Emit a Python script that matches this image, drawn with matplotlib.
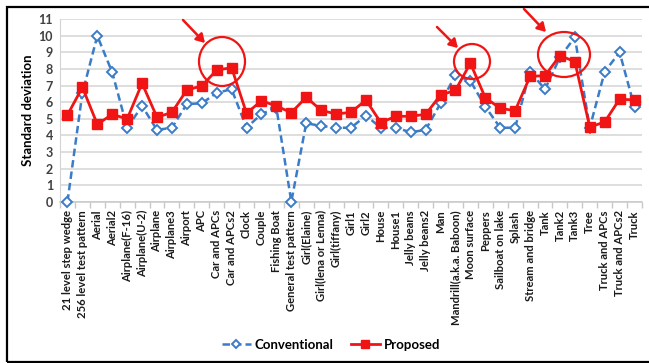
import matplotlib
matplotlib.use("Agg")
import matplotlib.pyplot as plt
from matplotlib.patches import Ellipse, FancyArrowPatch, Rectangle
from matplotlib.ticker import FixedLocator, NullFormatter

categories = [
    "21 level step wedge", "256 level test pattern", "Aerial", "Aerial2",
    "Airplane(F-16)", "Airplane(U-2)", "Airplane", "Airplane3", "Airport", "APC",
    "Car and APCs", "Car and APCs2", "Clock", "Couple", "Fishing Boat",
    "General test pattern", "Girl(Elaine)", "Girl(lena or Lenna)", "Girl(tiffany)",
    "Girl1", "Girl2", "House", "House1", "Jelly beans", "Jelly beans2", "Man",
    "Mandrill(a.k.a. Baboon)", "Moon surface", "Peppers", "Sailboat on lake",
    "Splash", "Stream and bridge", "Tank", "Tank2", "Tank3", "Tree",
    "Truck and APCs", "Truck and APCs2", "Truck",
]

conventional = [
    0.0, 6.55, 10.0, 7.8, 4.46, 5.77, 4.33, 4.46, 5.89, 5.93,
    6.57, 6.78, 4.46, 5.29, 5.67, 0.0, 4.73, 4.57, 4.46, 4.46,
    5.19, 4.46, 4.46, 4.19, 4.33, 5.93, 7.64, 7.28, 5.73, 4.46,
    4.46, 7.84, 6.78, 8.71, 9.92, 4.46, 7.84, 9.01, 5.69,
]

proposed = [
    5.23, 6.9, 4.67, 5.27, 4.99, 7.14, 5.09, 5.39, 6.74, 6.98,
    7.94, 8.08, 5.33, 6.09, 5.77, 5.37, 6.3, 5.51, 5.29, 5.39,
    6.13, 4.77, 5.15, 5.15, 5.27, 6.43, 6.72, 8.35, 6.27, 5.63,
    5.49, 7.56, 7.6, 8.81, 8.45, 4.5, 4.81, 6.19, 6.13,
]

y_ticks = list(range(0, 12))

W, H = 649, 363
fig = plt.figure(figsize=(W / 100, H / 100), dpi=100)
plt.rcParams["font.family"] = ["Lato", "DejaVu Sans"]


def px(x, y):
    """Pixel position (from top-left) to figure fraction."""
    return x / W, 1 - y / H


# outer frame
fig.patches.append(Rectangle(px(7, 362), (W + 10) / W, (362 - 7) / H,
                             transform=fig.transFigure, fill=False,
                             edgecolor="black", linewidth=1.6))

left, right, top, bottom = 60, 642, 19.3, 201.7
ax = fig.add_axes([left / W, 1 - bottom / H, (right - left) / W, (bottom - top) / H])

x = list(range(len(categories)))
ax.plot(x, conventional, linestyle=(0, (3, 1.6)), color="#3b7cc8", linewidth=1.8,
        marker="D", markersize=5.5, markerfacecolor="white",
        markeredgecolor="#3b7cc8", markeredgewidth=1.4, clip_on=False,
        label="Conventional", zorder=3)
ax.plot(x, proposed, linestyle="-", color="#f01414", linewidth=2.0,
        marker="s", markersize=6.5, markerfacecolor="#f01414",
        markeredgecolor="#f01414", clip_on=False, label="Proposed", zorder=4)

ax.set_xlim(-0.5, len(categories) - 0.5)
ax.set_ylim(0, 11)
ax.set_yticks(y_ticks)
ax.set_yticklabels([str(t) for t in y_ticks], fontsize=9, fontweight="bold",
                   color="#404040")
ax.tick_params(axis="y", length=0, pad=5)
ax.grid(axis="y", color="#d4d4d4", linewidth=1.1)
ax.set_axisbelow(True)

ax.set_xticks(x)
ax.set_xticklabels(categories, rotation=90, fontsize=8.1, fontweight="bold",
                   color="#1a1a1a")
ax.tick_params(axis="x", which="major", length=0, pad=6)
ax.xaxis.set_minor_locator(FixedLocator([i - 0.5 for i in range(len(categories) + 1)]))
ax.xaxis.set_minor_formatter(NullFormatter())
ax.tick_params(axis="x", which="minor", length=4, color="#c8c8c8", width=1)

for side in ("top", "right"):
    ax.spines[side].set_visible(False)
ax.spines["left"].set_color("#d4d4d4")
ax.spines["bottom"].set_color("#c8c8c8")
ax.spines["bottom"].set_linewidth(1.1)

ax.set_ylabel("Standard deviation", fontsize=9.5, fontweight="bold", labelpad=3)

# highlight rings and arrows
rings = [((222, 61.5), 46, 49), ((472, 61.5), 36, 35), ((564, 54.5), 52, 45)]
for (cx, cy), w, h in rings:
    fig.patches.append(Ellipse(px(cx, cy), w / W, h / H, transform=fig.transFigure,
                               fill=False, edgecolor="#f01414", linewidth=1.6,
                               zorder=10))
arrows = [((183, 20), (205, 43)), ((437, 27), (458, 48)), ((524, 9), (546, 32))]
for start, end in arrows:
    fig.patches.append(FancyArrowPatch(px(*start), px(*end), transform=fig.transFigure,
                                       arrowstyle="-|>,head_length=5,head_width=3",
                                       color="#f01414", linewidth=1.8,
                                       shrinkA=0, shrinkB=0, zorder=10))

fig.legend(loc="center", bbox_to_anchor=(331 / W, 1 - 345 / H), ncol=2,
           frameon=False, prop={"size": 9.5, "weight": "bold"}, markerscale=0.8,
           handlelength=2.2, columnspacing=1.3, handletextpad=0.3)

fig.savefig("out.png", dpi=100)
